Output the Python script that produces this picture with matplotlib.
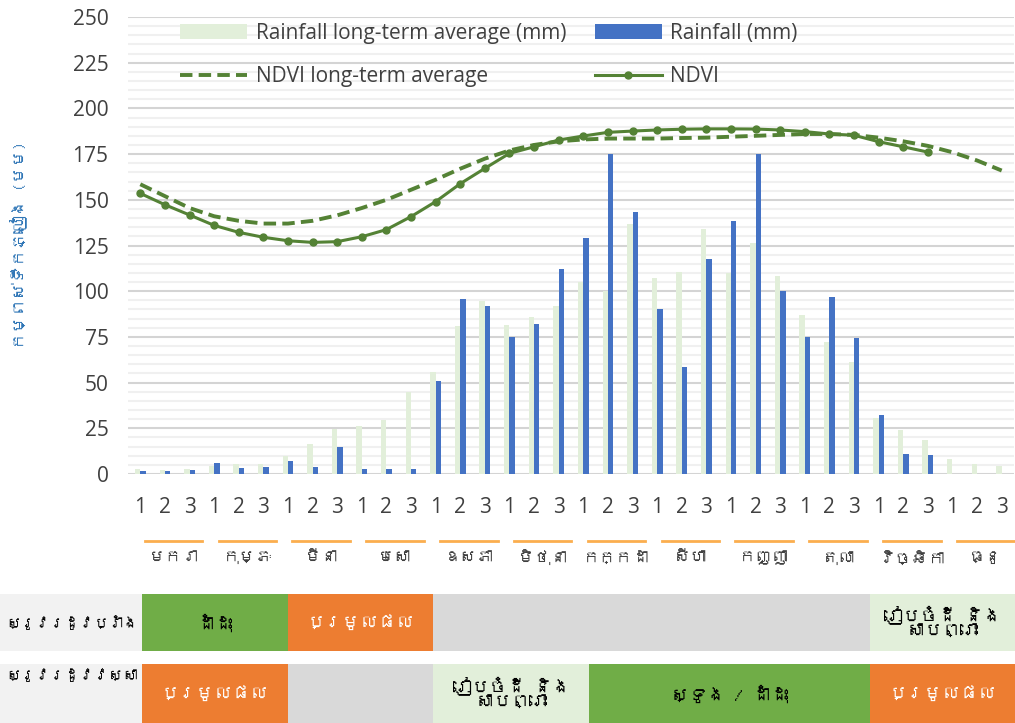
import matplotlib
matplotlib.use("Agg")
import matplotlib.pyplot as plt
import numpy as np
from matplotlib import font_manager
from matplotlib.ft2font import FT2Font
from matplotlib.lines import Line2D
from matplotlib.patches import Rectangle
import matplotlib.transforms as mtransforms

# ---------------- data ----------------
dekad_labels = ["1", "2", "3"] * 12
months = ["មករា", "កុម្ភៈ", "មីនា", "មេសា", "ឧសភា", "មិថុនា",
          "កក្កដា", "សីហា", "កញ្ញា", "តុលា", "វិច្ឆិកា", "ធ្នូ"]

rain_lta = [2.7, 2.2, 2.7, 4.4, 5.5, 5.5, 9.8, 16.6, 24.4, 26.3, 29.7, 44.7,
            55.6, 81.0, 94.8, 81.7, 85.9, 92.1, 105.2, 100.1, 136.8, 107.0, 110.5, 134.0,
            109.8, 126.2, 108.3, 87.2, 72.0, 61.3, 30.8, 24.3, 18.6, 8.2, 5.5, 4.6]
rain = [1.6, 1.6, 2.2, 5.8, 3.1, 3.6, 7.1, 3.6, 14.6, 2.9, 2.9, 2.9,
        50.9, 95.6, 92.1, 75.0, 81.9, 112.0, 129.1, 175.0, 143.5, 90.1, 58.3, 117.4,
        138.6, 175.0, 100.3, 75.0, 96.8, 74.2, 32.3, 11.1, 10.4, 0, 0, 0]
ndvi_lta = [158.5, 152.0, 145.5, 141.0, 138.5, 137.0, 137.0, 138.5, 141.5, 145.5, 150.0, 155.5,
            161.0, 167.0, 172.5, 177.0, 180.0, 182.0, 183.0, 183.5, 183.5, 183.5, 183.8, 184.0,
            184.5, 185.0, 185.5, 186.0, 186.0, 185.5, 184.0, 182.0, 179.5, 176.0, 171.5, 166.0]
ndvi = [153.5, 147.3, 141.7, 136.0, 132.2, 129.5, 127.6, 126.7, 127.1, 129.8, 133.7, 140.8,
        149.0, 158.8, 167.2, 175.4, 179.0, 182.7, 184.9, 186.9, 187.6, 188.2, 188.6, 188.8,
        188.8, 188.7, 188.2, 187.3, 186.0, 185.3, 181.8, 179.0, 176.1]

ylabel = "កម្ពស់ទឹកភ្លៀង (មម)"
legend_labels = ["Rainfall long-term average (mm)", "Rainfall (mm)",
                 "NDVI long-term average", "NDVI"]

row_labels = ["ស្រូវរដូវប្រាំង", "ស្រូវរដូវវស្សា"]
# (start month, end month, text, kind)
dry_season = [(0, 2, "ដាំដុះ", "grow"), (2, 4, "ប្រមូលផល", "harvest"),
              (4, 10, "", "idle"), (10, 12, "រៀបចំដី និង\nសាបព្រោះ", "prep")]
wet_season = [(0, 2, "ប្រមូលផល", "harvest"), (2, 4, "", "idle"),
              (4, 6.15, "រៀបចំដី និង\nសាបព្រោះ", "prep"), (6.15, 10, "ស្ទូង / ដាំដុះ", "grow"),
              (10, 12, "ប្រមូលផល", "harvest")]

# ---------------- fonts ----------------
def find_khmer_font():
    for f in font_manager.fontManager.ttflist:
        try:
            if 0x1780 in FT2Font(f.fname).get_charmap():
                return f.name
        except Exception:
            pass
    return None

kh = find_khmer_font()
latin = ["Open Sans", "DejaVu Sans"]
kfam = ([kh] if kh else []) + latin
plt.rcParams["font.family"] = latin

# ---------------- styles ----------------
C_LTA = "#E2EFDA"
C_RAIN = "#4472C4"
C_NDVI = "#548235"
C_TXT = "#404040"
cell_colors = {"grow": "#70AD47", "harvest": "#ED7D31", "idle": "#D9D9D9", "prep": "#E2EFDA"}
cell_text = {"grow": "black", "harvest": "white", "idle": "black", "prep": "black"}
FS = 15

W, H = 1015, 723
fig = plt.figure(figsize=(W / 100, H / 100), dpi=100)
ax = fig.add_axes([128 / W, 1 - 474 / H, (1014 - 128) / W, (474 - 17) / H])

x = np.arange(len(rain_lta))
bw = 0.22
b_lta = ax.bar(x - bw / 2, rain_lta, width=bw, color=C_LTA, zorder=2)
b_rain = ax.bar(x + bw / 2, rain, width=bw, color=C_RAIN, zorder=3)
l_lta, = ax.plot(x, ndvi_lta, color=C_NDVI, lw=2.8, ls=(0, (3.2, 1.6)), zorder=4)
l_ndvi, = ax.plot(np.arange(len(ndvi)), ndvi, color=C_NDVI, lw=2.2, marker="o", ms=5, zorder=5)

ax.set_xlim(-0.5, len(x) - 0.5)
ax.set_ylim(0, 250)
ax.set_yticks(np.arange(0, 251, 25))
ax.set_yticks(np.arange(0, 251, 5), minor=True)
ax.grid(axis="y", which="major", color="#D4D4D4", lw=1.5, zorder=0)
ax.grid(axis="y", which="minor", color="#F0F0F0", lw=1.5, zorder=0)
ax.set_axisbelow(True)
for s in ax.spines.values():
    s.set_visible(False)
ax.set_xticks(x)
ax.set_xticklabels(dekad_labels)
ax.tick_params(axis="x", length=0, pad=16.5, labelsize=FS, labelcolor=C_TXT)
ax.tick_params(axis="y", which="both", length=0, pad=14, labelsize=FS, labelcolor=C_TXT)

# legend: column-major order so rows read (rain LTA, rain) / (NDVI LTA, NDVI)
handles = [b_lta, l_lta, b_rain, l_ndvi]
labels = [legend_labels[0], legend_labels[2], legend_labels[1], legend_labels[3]]
leg = ax.legend(handles, labels, ncol=2, frameon=False,
                loc="upper left", bbox_to_anchor=((180 - 128) / 886, (474 - 23) / 457),
                fontsize=FS, handlelength=3.2, handletextpad=0.43, columnspacing=1.38,
                labelspacing=1.07, borderpad=0, borderaxespad=0)
for t in leg.get_texts():
    t.set_color(C_TXT)

# y label
fig.text(18 / W, 1 - 245 / H, ylabel, rotation=90, ha="center", va="center",
         color="#2E75B6", fontsize=12, family=kfam)

# month groups: orange line and label
trans = mtransforms.blended_transform_factory(ax.transData, ax.transAxes)
y_line = (474 - 541) / 457
y_lab = (474 - 558) / 457
for i, m in enumerate(months):
    c = 3 * i + 1 + 0.35
    ax.add_line(Line2D([c - 1.17, c + 1.17], [y_line, y_line], transform=trans,
                       color="#FBAE4E", lw=2, clip_on=False))
    ax.text(c, y_lab, m, transform=trans, ha="center", va="center", fontsize=12,
            color=C_TXT, family=kfam, clip_on=False)

# ---------------- bottom table ----------------
lab_ax = fig.add_axes([0, 0, 142 / W, (723 - 594) / H])
lab_ax.set_xlim(0, 142)
lab_ax.set_ylim(129, 0)
lab_ax.axis("off")
tab = fig.add_axes([142 / W, 0, (W - 142) / W, (723 - 594) / H])
tab.set_xlim(0, 12)
tab.set_ylim(129, 0)
tab.axis("off")
renderer = fig.canvas.get_renderer()
rows_y = [(0, 57), (70, 129)]
for (y0, y1), lab, stages, tv in zip(rows_y, row_labels, [dry_season, wet_season], ["center", "top"]):
    lab_ax.add_patch(Rectangle((0, y0), 142, y1 - y0, color="#F2F2F2", lw=0))
    ty = (y0 + y1) / 2 if tv == "center" else y0 + 4
    t = lab_ax.text(6, ty, lab, ha="left", va=tv, fontsize=14, fontweight="bold",
                    color="black", family=kfam)
    wpx = t.get_window_extent(renderer).width
    if wpx > 132:
        t.set_fontsize(14 * 132 / wpx)
    for s0, s1, txt, kind in stages:
        tab.add_patch(Rectangle((s0, y0), s1 - s0, y1 - y0, color=cell_colors[kind], lw=0))
        if txt:
            ct = tab.text((s0 + s1) / 2, (y0 + y1) / 2, txt, ha="center", va="center",
                          fontsize=13, color=cell_text[kind], family=kfam, linespacing=1.0)
            cw = ct.get_window_extent(renderer).width
            avail = (s1 - s0) * (W - 142) / 12 - 10
            if cw > avail:
                ct.set_fontsize(13 * avail / cw)

fig.savefig("out.png", dpi=100)
